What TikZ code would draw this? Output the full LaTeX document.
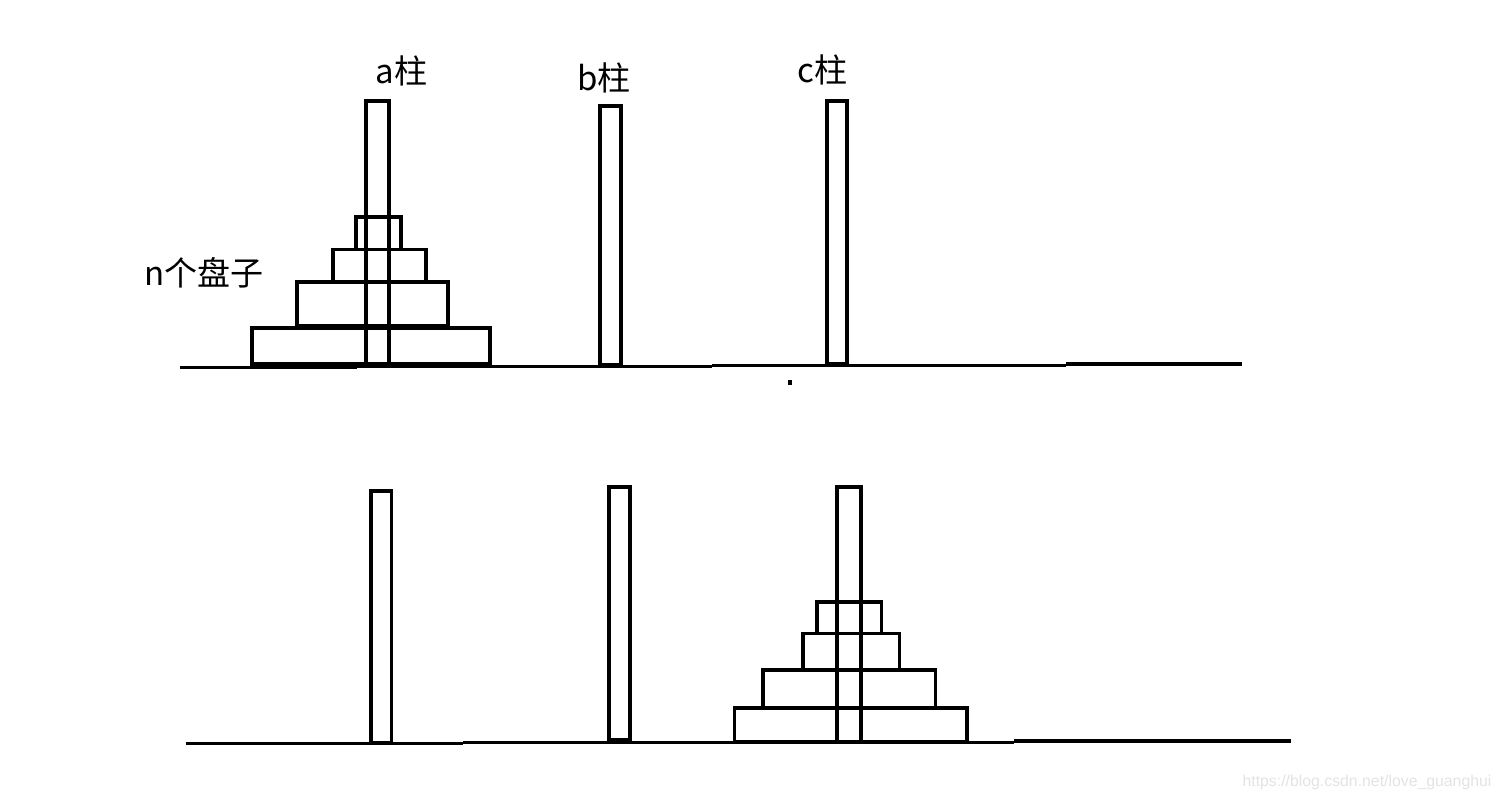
\documentclass[tikz,border=0pt]{standalone}
\usepackage{fontspec}
\newfontfamily\cjk{Noto Sans CJK SC}
\newfontfamily\wmfont{Liberation Sans}

\begin{document}
\begin{tikzpicture}[x=0.02cm,y=-0.02cm,line width=2pt,
    peglabel/.style={font=\cjk\fontsize{18.8}{22}\selectfont,inner sep=0pt}]
      \useasboundingbox (0,0) rectangle (1500,800);
      % upper row: n disks on peg a
      \draw (180,367.5) -- (357,367.5) (357,366.5) -- (712,366.5)
            (712,365.5) -- (1066,365.5) (1066,364) -- (1242,364);
      \draw (366,101) rectangle (389,364)
            (600,106) rectangle (621,365)
            (827,101) rectangle (847,364);
      \draw (356,217) rectangle (401,249.5)
            (333,249.5) rectangle (426,282)
            (297,282) rectangle (448,325.5)
            (252,328) rectangle (490,364);
      \fill (788,380) rectangle (792,385);
      \draw
        (401.5,70.5) node[peglabel] (la){a柱}
        (604,78) node[peglabel] (lb){b柱}
        (822.5,70) node[peglabel] (lc){c柱}
        (204,273) node[peglabel] (ln){n个盘子};
      % lower row: all disks moved to peg c
      \draw (186,743.5) -- (463,743.5) (463,742.5) -- (1014,742.5)
            (1014,741) -- (1291,741);
      \draw (371,491) rectangle (391.5,742.5)
            (609,487) rectangle (630,740)
            (837,487) rectangle (861,742);
      \draw (817,602) rectangle (881.5,633.5)
            (803,633.5) rectangle (899.5,669.5)
            (763,670) rectangle (935.5,707.5)
            (734.5,708) rectangle (967,742);
      \node[font=\wmfont\fontsize{9}{11}\selectfont,text=gray!22,inner sep=0pt]
        (wm) at (1367,782) {https://blog.csdn.net/love\_guanghui};
\end{tikzpicture}
\end{document}
